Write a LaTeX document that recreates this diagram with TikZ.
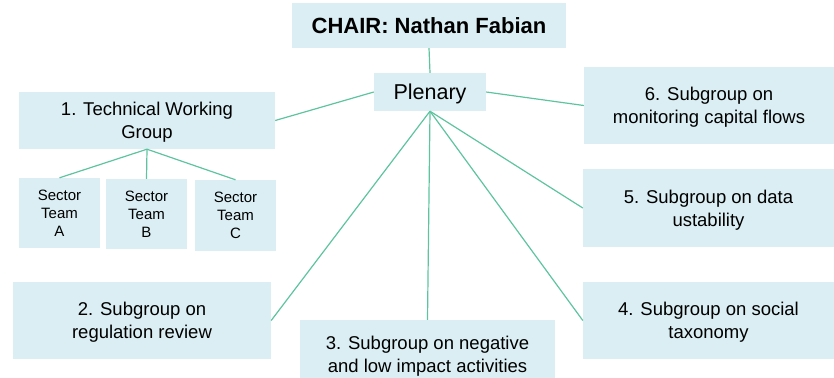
\documentclass[tikz,border=0pt]{standalone}
\usepackage{fontspec}
\setmainfont{Liberation Sans}
\definecolor{boxfill}{HTML}{DAEEF3}
\definecolor{linkline}{HTML}{5EC4A0}
\begin{document}
\begin{tikzpicture}[x=1pt,y=-1pt,
  box/.style={fill=boxfill, draw=none, align=center, inner sep=0pt, text depth=0pt,
    font=\fontsize{18.5}{23}\selectfont},
  small/.style={box, font=\fontsize{15}{18}\selectfont},
  link/.style={draw=linkline, line width=1.2pt}]
\useasboundingbox (0,0) rectangle (834,377);

% top of the hierarchy
\node[box, minimum width=274pt, minimum height=45pt, font=\fontsize{22}{26}\selectfont\bfseries]
  (chair) at (429,25.5) {CHAIR: Nathan Fabian};
\node[box, minimum width=112pt, minimum height=38pt, font=\fontsize{21.5}{26}\selectfont]
  (plen) at (430,92) {Plenary};

% technical working group and its sector teams
\node[box, minimum width=256pt, minimum height=57pt] (twg) at (147,120.5) {1. Technical Working\\Group};
\node[small, minimum width=81pt, minimum height=70pt] (secA) at (59.5,213) {Sector\\Team\\A};
\node[small, minimum width=81pt, minimum height=70pt] (secB) at (146.5,214) {Sector\\Team\\B};
\node[small, minimum width=81pt, minimum height=71pt] (secC) at (235.5,215.5) {Sector\\Team\\C};

% subgroups
\node[box, minimum width=258pt, minimum height=77pt] (s2) at (142,320.5) {2. Subgroup on\\regulation review};
\node[box, minimum width=255pt, minimum height=68pt] (s3) at (427.5,354) {3. Subgroup on negative\\and low impact activities};
\node[box, minimum width=251pt, minimum height=77pt] (s4) at (708.5,320.5) {4. Subgroup on social\\taxonomy};
\node[box, minimum width=251pt, minimum height=78pt] (s5) at (708.5,208) {5. Subgroup on data\\ustability};
\node[box, minimum width=250pt, minimum height=77pt] (s6) at (709,105.5) {6. Subgroup on\\monitoring capital flows};

% connectors
\draw[link] (chair.south) -- (plen.north);
\draw[link] (plen.west) -- (twg.east);
\draw[link] (plen.east) -- (s6.west);
\draw[link] (plen.south) -- (s5.west);
\draw[link] (plen.south) -- (s4.west);
\draw[link] (plen.south) -- (s3.north);
\draw[link] (plen.south) -- (s2.east);
\draw[link] (twg.south) -- (secA.north);
\draw[link] (twg.south) -- (secB.north);
\draw[link] (twg.south) -- (secC.north);
\end{tikzpicture}
\end{document}
